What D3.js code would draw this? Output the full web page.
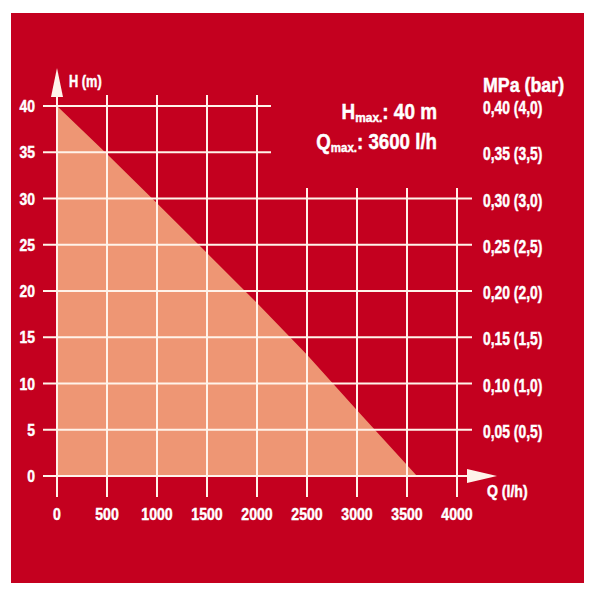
<!DOCTYPE html>
<html lang="de">
<head>
<meta charset="UTF-8">
<title>Kennlinie</title>
<script src="https://d3js.org/d3.v7.min.js"></script>
<style>
  body { margin: 0; background: #fff; }
  text { font-family: "Liberation Sans", Arial, sans-serif; font-weight: bold; fill: #fff; stroke: #fff; stroke-width: 0.45px; }
</style>
</head>
<body>
<div id="chart"></div>
<script>
// data
const flowTicks = [0, 500, 1000, 1500, 2000, 2500, 3000, 3500, 4000];   // Q (l/h)
const headTicks = [0, 5, 10, 15, 20, 25, 30, 35, 40];                   // H (m)
const pressureTicks = [5, 10, 15, 20, 25, 30, 35, 40];
const pressureLabels = ["0,05 (0,5)", "0,10 (1,0)", "0,15 (1,5)", "0,20 (2,0)",
                        "0,25 (2,5)", "0,30 (3,0)", "0,35 (3,5)", "0,40 (4,0)"];
const curveQ = [0, 500, 1000, 1500, 2000, 2500, 3000, 3600];
const curveH = [40, 34.8, 29.5, 24.1, 18.7, 13.1, 7.1, 0];
const hMax = "40 m";
const qMax = "3600 l/h";

const W = 595, H = 595;
const red = "#c4001f", salmon = "#ee9674", grid = "#fff3ea";

const svg = d3.select("#chart").append("svg")
  .attr("width", W).attr("height", H);

svg.append("rect")
  .attr("x", 11).attr("y", 13).attr("width", 573).attr("height", 570)
  .attr("fill", red);

const x = d3.scaleLinear().domain([0, 4000]).range([57, 457]);
const y = d3.scaleLinear().domain([0, 40]).range([476, 106]);

// filled area under the curve
const pts = curveQ.map((q, i) => ({ q: q, h: curveH[i] }));
const area = d3.area().x(d => x(d.q)).y0(y(0)).y1(d => y(d.h));
svg.append("path").datum(pts).attr("d", area).attr("fill", salmon);

const g = svg.append("g").attr("stroke", grid).attr("stroke-width", 2);

// horizontal grid lines
g.selectAll("line.h").data(headTicks).enter().append("line")
  .attr("x1", 43)
  .attr("x2", d => d === 0 ? 470 : (d >= 35 ? 271 : 472))
  .attr("y1", d => y(d)).attr("y2", d => y(d));

// vertical grid lines
g.selectAll("line.v").data(flowTicks).enter().append("line")
  .attr("x1", d => x(d)).attr("x2", d => x(d))
  .attr("y1", d => d === 0 ? 96 : (d <= 2000 ? 95 : 188))
  .attr("y2", 497);

// axis arrows
svg.append("path")
  .attr("d", `M${x(0)},68 L${x(0) - 6},97 L${x(0) + 6},97 Z`)
  .attr("fill", grid);
svg.append("path")
  .attr("d", `M497,${y(0)} L467,${y(0) - 7} L467,${y(0) + 7} Z`)
  .attr("fill", grid);

// condensed text: group translated to the anchor and squeezed horizontally
function label(px, py, size, sx, anchor, txt) {
  const t = svg.append("g")
    .attr("transform", `translate(${px},${py}) scale(${sx},1)`)
    .append("text")
    .attr("font-size", size)
    .attr("text-anchor", anchor);
  if (txt !== undefined) t.text(txt);
  return t;
}

// left tick labels
headTicks.forEach(d => label(35, y(d) + 6, 16.6, 0.84, "end", d));

// bottom tick labels
flowTicks.forEach(d => label(x(d), 520, 17, 0.83, "middle", d));

// right pressure labels
pressureTicks.forEach((d, i) => label(483, y(d) + 8, 17.8, 0.78, "start", pressureLabels[i]));

label(483, 92, 20, 0.89, "start", "MPa (bar)");
label(69, 87, 16, 0.8, "start", "H (m)");
label(487, 497, 16, 0.88, "start", "Q (l/h)");

// max values
const t1 = label(437, 118.5, 21.5, 0.88, "end");
t1.append("tspan").text("H");
t1.append("tspan").attr("font-size", 13.5).attr("dy", 3).text("max.");
t1.append("tspan").attr("dy", -3).text(": " + hMax);

const t2 = label(437, 149, 22, 0.85, "end");
t2.append("tspan").text("Q");
t2.append("tspan").attr("font-size", 13.5).attr("dy", 3).text("max.");
t2.append("tspan").attr("dy", -3).text(": " + qMax);
</script>
</body>
</html>
